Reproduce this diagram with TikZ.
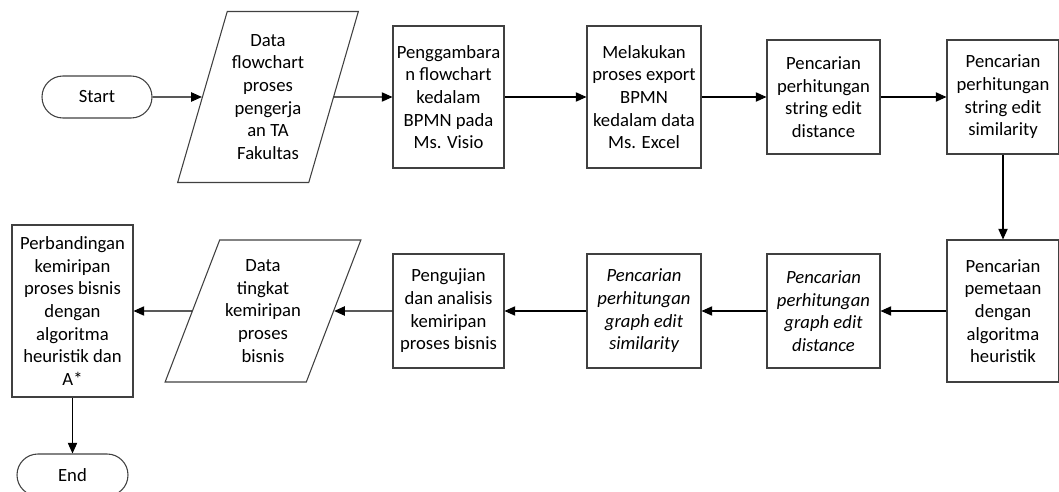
\documentclass[tikz,border=0pt]{standalone}
\usepackage{fontspec}
\setmainfont{Carlito}
\usetikzlibrary{shapes.geometric,arrows.meta}
\definecolor{boxGray}{rgb}{0.25,0.25,0.25}

\begin{document}
\begin{tikzpicture}[x=0.75pt, y=-0.75pt,
	every node/.style={font=\fontsize{14}{17}\selectfont, align=center, inner sep=0pt},
	procbox/.style={draw=boxGray, line width=0.8pt, rectangle},
	termbox/.style={draw=boxGray, line width=0.8pt, rectangle, rounded corners=15.7pt, minimum width=82.5pt, minimum height=31.5pt},
	databox/.style={draw=boxGray, line width=0.8pt, trapezium, trapezium stretches=true},
	flow/.style={line width=0.8pt, -{Triangle[length=8pt,width=7pt]}}]
	\useasboundingbox (0,0) rectangle (1059,492);
	% top row
	\node[termbox] (start) at (97,97) {Start};
	\node[databox, trapezium left angle=70.7, trapezium right angle=109.3, minimum width=135.75pt, minimum height=128.25pt] (flowdata) at (268,97) {Data\\flowchart\\proses\\pengerja\\an TA\\Fakultas};
	\node[procbox, minimum width=83.25pt, minimum height=106.5pt] (visio) at (448.5,97) {Penggambara\\n flowchart\\kedalam\\BPMN pada\\Ms. Visio};
	\node[procbox, minimum width=85.5pt, minimum height=106.5pt] (excel) at (644,97) {Melakukan\\proses export\\BPMN\\kedalam data\\Ms. Excel};
	\node[procbox, minimum width=84.75pt, minimum height=85.5pt] (strdist) at (823.5,97) {Pencarian\\perhitungan\\string edit\\distance};
	\node[procbox, minimum width=84pt, minimum height=85.5pt] (strsim) at (1003,97) {Pencarian\\perhitungan\\string edit\\similarity};
	% bottom row
	\node[procbox, minimum width=84pt, minimum height=106.5pt] (heur) at (1003,311) {Pencarian\\pemetaan\\dengan\\algoritma\\heuristik};
	\node[procbox, minimum width=84.75pt, minimum height=85.5pt, font=\fontsize{14}{17}\selectfont\itshape] (grdist) at (823.5,311) {Pencarian\\perhitungan\\graph edit\\distance};
	\node[procbox, minimum width=85.5pt, minimum height=85.5pt, font=\fontsize{14}{17}\selectfont\itshape] (grsim) at (644,311) {Pencarian\\perhitungan\\graph edit\\similarity};
	\node[procbox, minimum width=83.25pt, minimum height=85.5pt] (uji) at (448.5,311) {Pengujian\\dan analisis\\kemiripan\\proses bisnis};
	\node[databox, trapezium left angle=65.1, trapezium right angle=114.9, minimum width=147pt, minimum height=106.5pt] (simdata) at (263,311) {Data\\tingkat\\kemiripan\\proses\\bisnis};
	\node[procbox, minimum width=90.75pt, minimum height=129pt] (banding) at (72.5,311) {Perbandingan\\kemiripan\\proses bisnis\\dengan\\algoritma\\heuristik dan\\A*};
	\node[termbox, minimum width=83.25pt] (end) at (72.5,475) {End};
	% connectors
	\draw[flow] (start) -- (flowdata);
	\draw[flow] (flowdata) -- (visio);
	\draw[flow] (visio) -- (excel);
	\draw[flow] (excel) -- (strdist);
	\draw[flow] (strdist) -- (strsim);
	\draw[flow] (strsim) -- (heur);
	\draw[flow] (heur) -- (grdist);
	\draw[flow] (grdist) -- (grsim);
	\draw[flow] (grsim) -- (uji);
	\draw[flow] (uji) -- (simdata);
	\draw[flow] (simdata) -- (banding);
	\draw[flow] (banding) -- (end);
\end{tikzpicture}
\end{document}
